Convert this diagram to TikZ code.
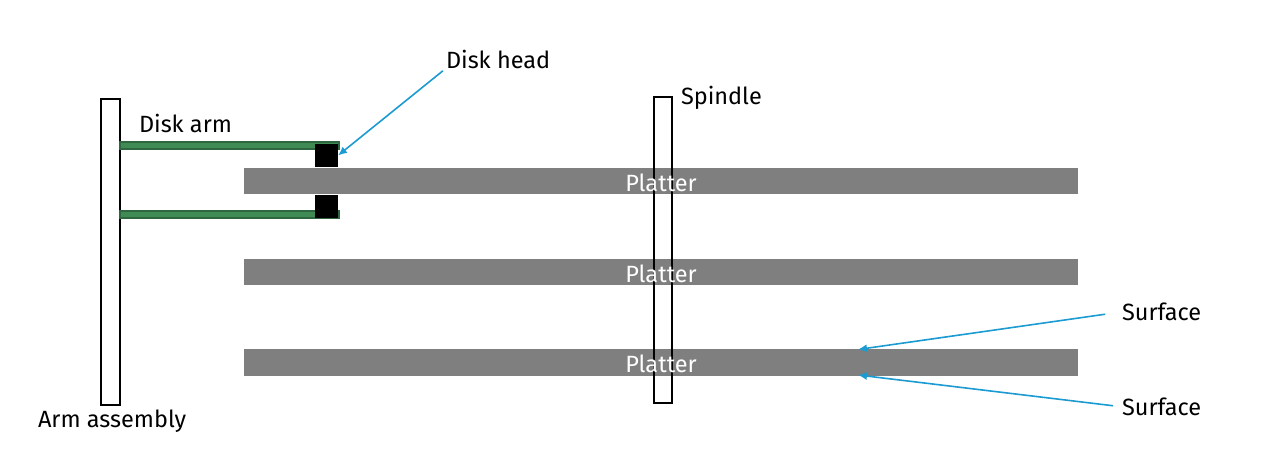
\documentclass[tikz,border=0pt]{standalone}
\usepackage{fontspec}
\setmainfont{Fira Sans}
\usetikzlibrary{arrows.meta,positioning}
\definecolor{armgreen}{HTML}{3F8A55}
\definecolor{armdark}{HTML}{2E6640}
\definecolor{platgray}{HTML}{7F7F7F}
\definecolor{leadblue}{HTML}{1B9BD1}

\begin{document}
\begin{tikzpicture}[
  x=1pt,y=-1pt,
  node distance=65pt and 10pt,
  every node/.style={inner sep=0pt,outer sep=0pt},
  post/.style={draw=black,line width=2pt,minimum width=18.5pt,minimum height=306pt},
  platter/.style={fill=platgray,minimum width=834pt,minimum height=26pt},
  arm/.style={draw=armdark,fill=armgreen,line width=2.2pt,minimum width=219pt,minimum height=7.5pt},
  head/.style={fill=black,minimum width=23pt,minimum height=23pt},
  lbl/.style={font=\fontsize{23.5}{28}\selectfont,text=black,anchor=base west},
  platlbl/.style={font=\fontsize{23.5}{28}\selectfont,text=white,anchor=base},
  lead/.style={-{Latex[length=9pt,width=8pt]},draw=leadblue,line width=1.6pt}
]
\useasboundingbox (0,0) rectangle (1263,452);
\node[platter] (plattera) at (661,181) {};
\node[platter,below=65pt of plattera] (platterb) {};
\node[platter,below=64pt of platterb,minimum height=27pt] (platterc) {};
\node[post] (assembly) at (110.5,252) {};
\node[post] (spindle) at (663,249.5) {};
\node[arm,anchor=west] (armup) at (assembly.east |- 0,145.5) {};
\node[arm,anchor=west] (armdown) at (assembly.east |- 0,214.5) {};
\node[head] (headup) at (326.5,155.5) {};
\node[head] (headdown) at (326.5,206.5) {};
\node[platlbl] (platlbla) at (661,191) {Platter};
\node[platlbl] (platlblb) at (661,282) {Platter};
\node[platlbl] (platlblc) at (661,372) {Platter};
\node[lbl] (armtext) at (139,132) {Disk arm};
\node[lbl] (headtext) at (446,68) {Disk head};
\node[lbl] (spindletext) at (681,104) {Spindle};
\node[lbl] (assemblytext) at (38,427) {Arm assembly};
\node[lbl] (surfup) at (1122,320.5) {Surface};
\node[lbl] (surfdown) at (1122,415.5) {Surface};
\coordinate (surfupend) at (858,349.5);
\coordinate (surfdownend) at (858,375);
\draw[lead,shorten <=4pt] (headtext.south west) -- (headup.east);
\draw[lead,shorten <=17pt] (surfup.west) -- (surfupend);
\draw[lead,shorten <=9pt] (surfdown.west) -- (surfdownend);
\end{tikzpicture}
\end{document}
